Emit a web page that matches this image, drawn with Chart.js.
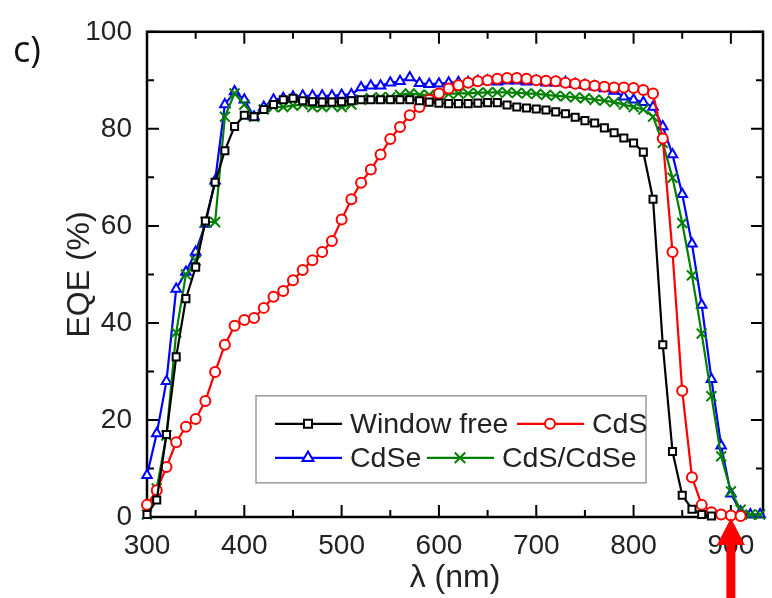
<!DOCTYPE html>
<html>
<head>
<meta charset="utf-8">
<script src="https://cdn.jsdelivr.net/npm/chart.js@4.4.1/dist/chart.umd.min.js"></script>
<style>
  html, body { margin: 0; padding: 0; background: #fff; }
  canvas { display: block; }
</style>
</head>
<body>
<canvas id="eqeChart" width="772" height="598"></canvas>
<script>
// wavelength grid (nm)
var wavelengths = [300, 310, 320, 330, 340, 350, 360, 370, 380, 390,
                   400, 410, 420, 430, 440, 450, 460, 470, 480, 490,
                   500, 510, 520, 530, 540, 550, 560, 570, 580, 590,
                   600, 610, 620, 630, 640, 650, 660, 670, 680, 690,
                   700, 710, 720, 730, 740, 750, 760, 770, 780, 790,
                   800, 810, 820, 830, 840, 850, 860, 870, 880, 890,
                   900, 910, 920, 930];

// EQE (%) per series
var windowFree = [0.5, 3.5, 17, 33, 45, 51.5, 61, 69, 75.5, 80.5,
                  82.8, 82.5, 84, 85, 86, 86.3, 85.8, 85.6, 85.5, 85.5,
                  85.6, 85.8, 86, 86, 86, 86, 86, 86, 85.8, 85.5,
                  85.3, 85.2, 85.2, 85.2, 85.3, 85.4, 85.4, 84.9, 84.5, 84.3,
                  84.1, 83.9, 83.5, 83.1, 82.4, 81.7, 81.2, 80.2, 79.2, 78.1,
                  77.1, 75.2, 65.5, 35.5, 13.5, 4.5, 1.6, 0.5, 0.2];
var cds = [2.5, 5.5, 10.3, 15.4, 18.6, 20.2, 23.9, 29.9, 35.5, 39.4,
           40.6, 41, 43.1, 45.4, 46.6, 48.8, 50.9, 52.9, 54.6, 56.9,
           61.3, 65.5, 68.9, 71.6, 74.7, 77.9, 80.4, 82.8, 84.5, 86,
           87.3, 88.3, 89, 89.5, 89.8, 90, 90.3, 90.5, 90.5, 90.3,
           90, 89.9, 89.8, 89.5, 89.3, 89.1, 88.9, 88.7, 88.5, 88.5,
           88.4, 88, 87.3, 78, 54.6, 26, 8.2, 2.5, 1, 0.5,
           0.3, 0.2];
var cdse = [8.6, 17.2, 28, 47, 50.5, 54.6, 60.4, 69.3, 85, 87.7,
            86, 82.5, 84.5, 86, 86.3, 86.6, 86.8, 86.8, 86.8, 86.8,
            87, 87.1, 88.5, 88.9, 88.9, 89.5, 89.8, 90.6, 89.4, 89.2,
            89.3, 89.5, 89.6, 89.6, 89.8, 89.9, 89.7, 89.9, 89.9, 89.7,
            89.8, 89.5, 89.5, 89.6, 89.2, 89, 88.7, 88.3, 87.8, 86.6,
            86, 85.5, 84.5, 80.5, 74.7, 66.5, 56.3, 43.7, 28.4, 14.7,
            4.8, 1.1, 0.5, 0.5];
var cdsCdse = [0.5, 5.9, 16.8, 38, 50, 52.8, 60.8, 60.8, 82.5, 87.3,
               85, 82.5, 84, 84.5, 84.5, 84.8, 85, 84.5, 84.5, 84.8,
               84.5, 85, 86, 86.3, 86.5, 86.5, 87, 87.3, 87, 87,
               87, 87.2, 87.3, 87.3, 87.4, 87.5, 87.5, 87.5, 87.4, 87.3,
               87.2, 87, 86.8, 86.7, 86.5, 86.3, 86, 85.8, 85.5, 85,
               84.5, 84, 82.5, 77.1, 69.9, 60.6, 49.8, 37.8, 24.9, 12.5,
               5.3, 1.5, 0.5, 0.5];

var seriesNames = ['Window free', 'CdS', 'CdSe', 'CdS/CdSe'];
var xTicks = [300, 400, 500, 600, 700, 800, 900];
var yTicks = [0, 20, 40, 60, 80, 100];
var arrowAt = 900;

var FONT = '"Liberation Sans", Arial, sans-serif';

function pairs(vals) {
    var out = [];
    for (var i = 0; i < vals.length; i++) out.push({x: wavelengths[i], y: vals[i]});
    return out;
}

function series(label, vals, color, style, radius, order) {
    return {
        label: label,
        data: pairs(vals),
        borderColor: color,
        backgroundColor: '#fff',
        borderWidth: 2.2,
        pointStyle: style,
        pointRadius: radius,
        pointBorderWidth: 2,
        pointBorderColor: color,
        pointBackgroundColor: '#fff',
        tension: 0,
        clip: false,
        order: order
    };
}

// little marker painter for the legend
function marker(ctx, style, x, y, r, color) {
    ctx.save();
    ctx.strokeStyle = color;
    ctx.fillStyle = '#fff';
    ctx.lineWidth = 2;
    ctx.beginPath();
    if (style === 'rect') {
        ctx.rect(x - r * 0.8, y - r * 0.8, r * 1.6, r * 1.6);
        ctx.fill();
    } else if (style === 'circle') {
        ctx.arc(x, y, r, 0, Math.PI * 2);
        ctx.fill();
    } else if (style === 'triangle') {
        ctx.moveTo(x, y - r * 1.15);
        ctx.lineTo(x + r, y + r * 0.6);
        ctx.lineTo(x - r, y + r * 0.6);
        ctx.closePath();
        ctx.fill();
    } else {
        ctx.moveTo(x - r * 0.75, y - r * 0.75); ctx.lineTo(x + r * 0.75, y + r * 0.75);
        ctx.moveTo(x + r * 0.75, y - r * 0.75); ctx.lineTo(x - r * 0.75, y + r * 0.75);
    }
    ctx.stroke();
    ctx.restore();
}

var framePlugin = {
    id: 'frame',
    beforeDatasetsDraw: function(chart) {
        var ctx = chart.ctx, a = chart.chartArea;
        var xs = chart.scales.x, ys = chart.scales.y;
        ctx.save();
        ctx.strokeStyle = '#000';
        ctx.lineWidth = 2;
        // inward ticks on all four sides
        for (var v = 300; v <= 930; v += 50) {
            var px = xs.getPixelForValue(v);
            var len = (v % 100 === 0) ? 12 : 7;
            ctx.beginPath();
            ctx.moveTo(px, a.bottom); ctx.lineTo(px, a.bottom - len);
            ctx.moveTo(px, a.top); ctx.lineTo(px, a.top + len);
            ctx.stroke();
        }
        for (var w = 0; w <= 100; w += 10) {
            var py = ys.getPixelForValue(w);
            var l2 = (w % 20 === 0) ? 12 : 7;
            ctx.beginPath();
            ctx.moveTo(a.left, py); ctx.lineTo(a.left + l2, py);
            ctx.moveTo(a.right, py); ctx.lineTo(a.right - l2, py);
            ctx.stroke();
        }
        ctx.lineWidth = 2.5;
        ctx.strokeRect(a.left, a.top, a.right - a.left, a.bottom - a.top);
        ctx.restore();
    },
    afterDraw: function(chart) {
        var ctx = chart.ctx, a = chart.chartArea;
        var sets = chart.data.datasets;
        ctx.save();

        // legend box inside the plot
        var lx = a.left + 109, ly = a.top + 364, lw = 390, lh = 87;
        ctx.fillStyle = '#fff';
        ctx.fillRect(lx, ly, lw, lh);
        ctx.strokeStyle = '#9a9a9a';
        ctx.lineWidth = 1.5;
        ctx.strokeRect(lx, ly, lw, lh);

        var items = [
            {i: 0, x: lx + 19, y: ly + 28},
            {i: 1, x: lx + 261, y: ly + 28},
            {i: 2, x: lx + 19, y: ly + 62},
            {i: 3, x: lx + 171, y: ly + 62}
        ];
        ctx.font = '28.5px ' + FONT;
        ctx.textBaseline = 'middle';
        ctx.textAlign = 'left';
        items.forEach(function(it) {
            var ds = sets[it.i];
            ctx.strokeStyle = ds.borderColor;
            ctx.lineWidth = 2.2;
            ctx.beginPath();
            ctx.moveTo(it.x, it.y); ctx.lineTo(it.x + 67, it.y);
            ctx.stroke();
            marker(ctx, ds.pointStyle, it.x + 33, it.y, ds.pointRadius, ds.borderColor);
            ctx.fillStyle = '#222';
            ctx.fillText(ds.label, it.x + 75, it.y + 1);
        });

        // panel letter
        ctx.fillStyle = '#111';
        ctx.font = '36px "Open Sans", "Noto Sans", sans-serif';
        ctx.textBaseline = 'alphabetic';
        ctx.fillText('c)', 13, 62);

        // red arrow pointing at the absorption edge
        var ax = chart.scales.x.getPixelForValue(arrowAt);
        var tip = a.bottom + 1;
        ctx.fillStyle = '#ff0000';
        ctx.beginPath();
        ctx.moveTo(ax, tip);
        ctx.lineTo(ax + 14, tip + 27);
        ctx.lineTo(ax + 4.5, tip + 27);
        ctx.lineTo(ax + 4.5, chart.height);
        ctx.lineTo(ax - 4.5, chart.height);
        ctx.lineTo(ax - 4.5, tip + 27);
        ctx.lineTo(ax - 14, tip + 27);
        ctx.closePath();
        ctx.fill();
        ctx.restore();
    }
};

var ctx = document.getElementById('eqeChart').getContext('2d');
var chart = new Chart(ctx, {
    type: 'line',
    data: {
        datasets: [
            series(seriesNames[0], windowFree, '#000000', 'rect', 5, 1),
            series(seriesNames[1], cds, '#ff0000', 'circle', 5, 2),
            series(seriesNames[2], cdse, '#0000ff', 'triangle', 5.5, 4),
            series(seriesNames[3], cdsCdse, '#008000', 'crossRot', 7, 3)
        ]
    },
    options: {
        responsive: false,
        animation: false,
        layout: { padding: { left: 0, right: 2, top: 28, bottom: 0 } },
        plugins: {
            legend: { display: false },
            tooltip: { enabled: false }
        },
        scales: {
            x: {
                type: 'linear',
                min: 300,
                max: 933,
                afterBuildTicks: function(s) {
                    s.ticks = xTicks.map(function(v) { return {value: v}; });
                },
                afterFit: function(s) { s.height = 81; },
                grid: { display: false, drawTicks: false },
                border: { display: false },
                ticks: {
                    padding: 12,
                    color: '#222',
                    font: { family: FONT, size: 28 },
                    maxRotation: 0
                },
                title: {
                    display: true,
                    text: 'λ (nm)',
                    color: '#222',
                    font: { family: FONT, size: 32 },
                    padding: { top: 0, bottom: 1 }
                }
            },
            y: {
                min: 0,
                max: 100,
                afterBuildTicks: function(s) {
                    s.ticks = yTicks.map(function(v) { return {value: v}; });
                },
                afterFit: function(s) { s.width = 147; },
                grid: { display: false, drawTicks: false },
                border: { display: false },
                ticks: {
                    padding: 15,
                    color: '#222',
                    font: { family: FONT, size: 28 }
                },
                title: {
                    display: true,
                    text: 'EQE (%)',
                    color: '#222',
                    font: { family: FONT, size: 32 },
                    padding: { top: 61, bottom: 0 }
                }
            }
        }
    },
    plugins: [framePlugin]
});
</script>
</body>
</html>
